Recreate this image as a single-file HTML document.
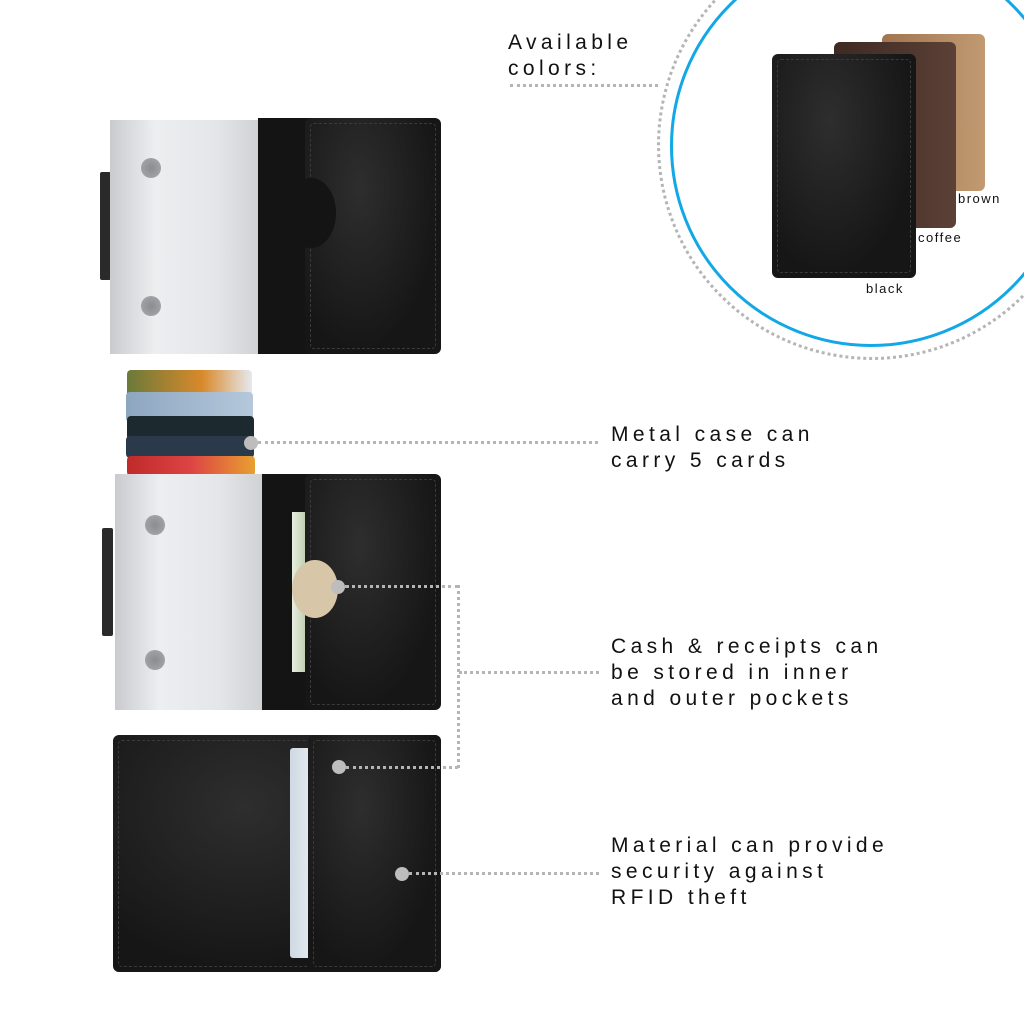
<!DOCTYPE html>
<html><head><meta charset="utf-8"><style>
body{margin:0;width:1024px;height:1024px;background:#fff;position:relative;overflow:hidden;font-family:"Liberation Sans",sans-serif}
.a{position:absolute}
.metal{background:linear-gradient(90deg,#c9cbcf,#eceef0 30%,#e4e6e9 70%,#cfd1d4);}
.leather{background:radial-gradient(ellipse at 40% 30%,#2e2e2e,#161616 70%);border-radius:6px;}
.stitch{position:absolute;inset:5px;border:1px dashed #3a3a3a;border-radius:4px}
.dot{position:absolute;width:20px;height:20px;border-radius:50%;background:radial-gradient(#8a8c90,#a9abae);}
.clip{background:#2a2a2a;border-radius:2px}
.t{position:absolute;font-size:21px;letter-spacing:4.4px;line-height:26px;color:#111}
.pt{position:absolute;width:14px;height:14px;border-radius:50%;background:#bdbdbd}
.hl{position:absolute;border-top:3px dotted #b5b5b5;height:0}
.vl{position:absolute;border-left:3px dotted #b5b5b5;width:0}
.lab{position:absolute;font-size:13px;letter-spacing:1.5px;color:#111}
</style></head><body>

<div class="a" style="left:657px;top:-70px;width:430px;height:430px;border-radius:50%;border:3px dotted #b5b5b5;box-sizing:border-box"></div>
<div class="a" style="left:670px;top:-55px;width:402px;height:402px;border-radius:50%;border:3px solid #12a8e6;box-sizing:border-box"></div>
<div class="a" style="left:882px;top:34px;width:103px;height:157px;background:linear-gradient(90deg,#a07550,#c19a72);border-radius:6px"></div>
<div class="a" style="left:834px;top:42px;width:122px;height:186px;background:linear-gradient(90deg,#3e2a22,#5b4036);border-radius:6px"></div>
<div class="a leather" style="left:772px;top:54px;width:144px;height:224px"><div class="stitch"></div></div>
<div class="lab" style="left:958px;top:191px">brown</div>
<div class="lab" style="left:918px;top:230px">coffee</div>
<div class="lab" style="left:866px;top:281px">black</div>

<div class="t" style="left:508px;top:30px">Available<br>colors:</div>
<div class="hl" style="left:510px;top:84px;width:148px"></div>

<div class="a clip" style="left:100px;top:172px;width:11px;height:108px"></div>
<div class="a metal" style="left:110px;top:120px;width:150px;height:234px"></div>
<div class="dot" style="left:141px;top:158px"></div>
<div class="dot" style="left:141px;top:296px"></div>
<div class="a" style="left:258px;top:118px;width:60px;height:236px;background:#141414"></div>
<div class="a leather" style="left:305px;top:118px;width:136px;height:236px"><div class="stitch"></div></div>
<div class="a" style="left:286px;top:178px;width:50px;height:70px;border-radius:50%;background:#141414"></div>

<div class="a" style="left:127px;top:370px;width:125px;height:30px;background:linear-gradient(90deg,#6a7a3a,#d9892a 60%,#e6e9f0);border-radius:4px"></div>
<div class="a" style="left:126px;top:392px;width:127px;height:30px;background:linear-gradient(90deg,#8da6c0,#b5c8dc);border-radius:4px"></div>
<div class="a" style="left:127px;top:416px;width:127px;height:24px;background:#1c2a30;border-radius:4px"></div>
<div class="a" style="left:126px;top:436px;width:128px;height:22px;background:#2a3a4a;border-radius:4px"></div>
<div class="a" style="left:127px;top:456px;width:128px;height:20px;background:linear-gradient(90deg,#c02a2a,#d44,#e8a030);border-radius:4px"></div>

<div class="a clip" style="left:102px;top:528px;width:11px;height:108px"></div>
<div class="a metal" style="left:115px;top:474px;width:148px;height:236px"></div>
<div class="dot" style="left:145px;top:515px"></div>
<div class="dot" style="left:145px;top:650px"></div>
<div class="a" style="left:262px;top:474px;width:60px;height:236px;background:#141414"></div>
<div class="a" style="left:292px;top:512px;width:16px;height:160px;background:linear-gradient(90deg,#e8eee0,#b8c8a8)"></div>
<div class="a leather" style="left:305px;top:474px;width:136px;height:236px"><div class="stitch"></div></div>
<div class="a" style="left:292px;top:560px;width:46px;height:58px;border-radius:50%;background:#d8c6a8"></div>

<div class="a leather" style="left:113px;top:735px;width:328px;height:237px"><div class="stitch"></div></div>
<div class="a" style="left:290px;top:748px;width:26px;height:210px;background:linear-gradient(90deg,#cfd8e4,#e8eef0);border-radius:3px"></div>
<div class="a leather" style="left:308px;top:735px;width:133px;height:237px"><div class="stitch"></div></div>

<div class="pt" style="left:244px;top:436px"></div>
<div class="hl" style="left:258px;top:441px;width:340px"></div>
<div class="t" style="left:611px;top:422px">Metal case can<br>carry 5 cards</div>

<div class="pt" style="left:331px;top:580px"></div>
<div class="hl" style="left:345px;top:585px;width:114px"></div>
<div class="vl" style="left:457px;top:585px;height:183px"></div>
<div class="pt" style="left:332px;top:760px"></div>
<div class="hl" style="left:346px;top:766px;width:112px"></div>
<div class="hl" style="left:459px;top:671px;width:140px"></div>
<div class="t" style="left:611px;top:634px">Cash &amp; receipts can<br>be stored in inner<br>and outer pockets</div>

<div class="pt" style="left:395px;top:867px"></div>
<div class="hl" style="left:409px;top:872px;width:190px"></div>
<div class="t" style="left:611px;top:833px">Material can provide<br>security against<br>RFID theft</div>

</body></html>
